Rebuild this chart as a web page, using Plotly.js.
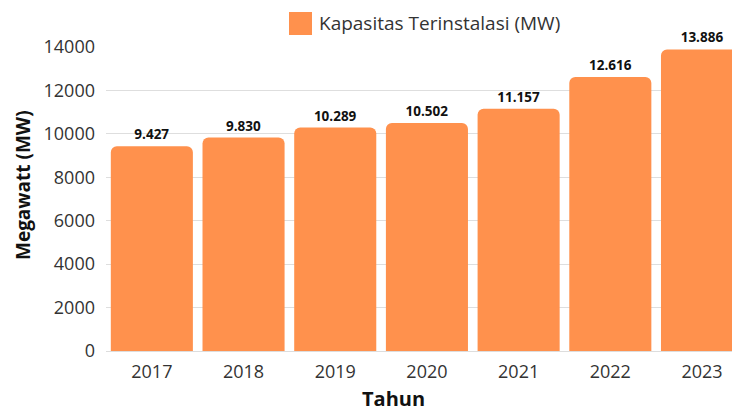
<!DOCTYPE html>
<html>
<head>
<meta charset="utf-8">
<script src="https://cdn.plot.ly/plotly-3.0.1.min.js"></script>
<style>
html,body{margin:0;padding:0;background:#fff;overflow:hidden;}
#chart{width:732px;height:411px;}
</style>
</head>
<body>
<div id="chart"></div>
<script>
const years = ['2017', '2018', '2019', '2020', '2021', '2022', '2023'];
const capacityMW = [9427, 9830, 10289, 10502, 11157, 12616, 13886];
const yTicks = [0, 2000, 4000, 6000, 8000, 10000, 12000, 14000];
const seriesName = 'Kapasitas Terinstalasi (MW)';
const xTitle = 'Tahun';
const yTitle = 'Megawatt (MW)';

const FONT = '"Open Sans", "Noto Sans", sans-serif';
const BAR_COLOR = '#FF914D';

// plot area in pixels: left 106, right 732, top 47, bottom 351
const PX = {l: 106, r: 732, t: 47, b: 351};
const px2paperX = x => (x - PX.l) / (PX.r - PX.l);
const px2paperY = y => (PX.b - y) / (PX.b - PX.t);

const trace = {
  type: 'bar',
  x: years,
  y: capacityMW,
  name: seriesName,
  showlegend: false,
  marker: {color: BAR_COLOR, cornerradius: 6},
  texttemplate: '%{y:,}',
  textposition: 'outside',
  cliponaxis: false,
  constraintext: 'none',
  textfont: {family: FONT, size: 13.5, color: '#111', weight: 'bold'},
  hoverinfo: 'x+y'
};

const layout = {
  width: 732,
  height: 411,
  margin: {l: PX.l, r: 732 - PX.r, t: PX.t, b: 411 - PX.b},
  paper_bgcolor: '#fff',
  plot_bgcolor: '#fff',
  separators: ',.',
  bargap: 0.105,
  showlegend: false,
  font: {family: FONT, color: '#333'},
  xaxis: {
    type: 'category',
    range: [-0.5, 6.327],
    tickfont: {family: FONT, size: 18, color: '#333'},
    showgrid: false,
    showline: true,
    linecolor: '#dddddd',
    linewidth: 1,
    ticks: '',
    ticklabelstandoff: 4
  },
  yaxis: {
    range: [0, 14000],
    tickvals: yTicks,
    tickformat: 'd',
    tickfont: {family: FONT, size: 18, color: '#333'},
    gridcolor: '#dedede',
    gridwidth: 1,
    zeroline: false,
    ticks: '',
    ticklabelstandoff: 10
  },
  shapes: [{
    type: 'rect',
    xref: 'paper', yref: 'paper',
    x0: px2paperX(289), x1: px2paperX(312),
    y0: px2paperY(35), y1: px2paperY(12),
    fillcolor: BAR_COLOR,
    line: {width: 0}
  }],
  annotations: [
    {
      text: seriesName,
      xref: 'paper', yref: 'paper',
      x: px2paperX(317), y: px2paperY(23),
      xanchor: 'left', yanchor: 'middle',
      showarrow: false,
      font: {family: FONT, size: 19, color: '#333'}
    },
    {
      text: xTitle,
      xref: 'paper', yref: 'paper',
      x: px2paperX(393), y: px2paperY(398),
      xanchor: 'center', yanchor: 'middle',
      showarrow: false,
      borderpad: 0,
      font: {family: FONT, size: 20, color: '#111', weight: 'bold'}
    },
    {
      text: yTitle,
      xref: 'paper', yref: 'paper',
      x: px2paperX(23), y: px2paperY(185),
      xanchor: 'center', yanchor: 'middle',
      textangle: -90,
      showarrow: false,
      font: {family: FONT, size: 19, color: '#111', weight: 'bold'}
    }
  ]
};

Plotly.newPlot('chart', [trace], layout, {staticPlot: true, displayModeBar: false});
</script>
</body>
</html>
